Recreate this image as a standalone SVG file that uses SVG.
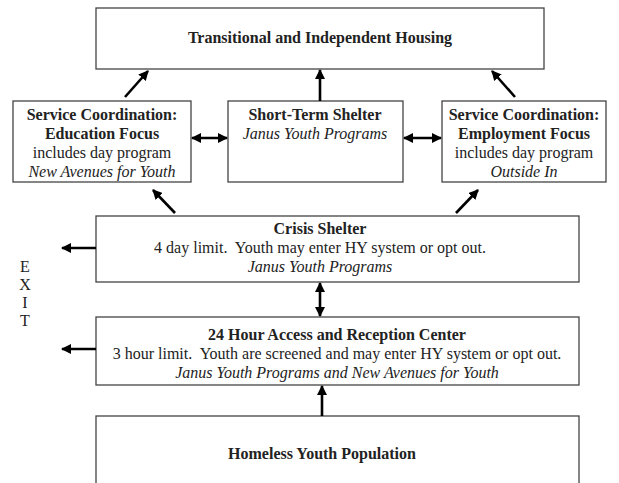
<svg xmlns="http://www.w3.org/2000/svg" width="619" height="483" viewBox="0 0 619 483">
<defs>
<marker id="ah" viewBox="0 0 10 10" refX="9" refY="5" markerWidth="10" markerHeight="10" markerUnits="userSpaceOnUse" orient="auto-start-reverse">
<path d="M0,0 L10,5 L0,10 z" fill="#000"/>
</marker>
<style>
.box{fill:#fff;stroke:#444;stroke-width:1.3}
.t{font-family:"Liberation Serif",serif;font-size:16px;fill:#222;text-anchor:middle;white-space:pre}
.b{font-weight:bold}
.i{font-style:italic}
.c{stroke:#000;stroke-width:2.6;fill:none}
</style>
</defs>
<g id="housing">
<rect class="box" x="96" y="8" width="448" height="61"/>
<text class="t b" x="320" y="43">Transitional and Independent Housing</text>
</g>
<g id="education">
<rect class="box" x="13" y="101" width="178" height="81"/>
<text class="t b" x="102" y="120">Service Coordination:</text>
<text class="t b" x="102" y="139">Education Focus</text>
<text class="t" x="102" y="158">includes day program</text>
<text class="t i" x="102" y="177">New Avenues for Youth</text>
</g>
<g id="shortterm">
<rect class="box" x="228" y="101" width="175" height="81"/>
<text class="t b" x="315" y="120">Short-Term Shelter</text>
<text class="t i" x="315" y="139">Janus Youth Programs</text>
</g>
<g id="employment">
<rect class="box" x="442" y="101" width="164" height="81"/>
<text class="t b" x="524" y="120">Service Coordination:</text>
<text class="t b" x="524" y="139">Employment Focus</text>
<text class="t" x="524" y="158">includes day program</text>
<text class="t i" x="524" y="177">Outside In</text>
</g>
<g id="crisis">
<rect class="box" x="96" y="216" width="483" height="66"/>
<text class="t b" x="320" y="234">Crisis Shelter</text>
<text class="t" x="320" y="253" xml:space="preserve">4 day limit.  Youth may enter HY system or opt out.</text>
<text class="t i" x="320" y="272">Janus Youth Programs</text>
</g>
<g id="reception">
<rect class="box" x="96" y="317" width="483" height="68"/>
<text class="t b" x="337" y="340">24 Hour Access and Reception Center</text>
<text class="t" x="337" y="359" xml:space="preserve">3 hour limit.  Youth are screened and may enter HY system or opt out.</text>
<text class="t i" x="337" y="378">Janus Youth Programs and New Avenues for Youth</text>
</g>
<g id="population">
<rect class="box" x="96" y="416" width="483" height="90"/>
<text class="t b" x="322" y="459">Homeless Youth Population</text>
</g>
<g id="exit">
<text class="t" x="25" y="272">E</text>
<text class="t" x="25" y="290">X</text>
<text class="t" x="25" y="308">I</text>
<text class="t" x="25" y="326">T</text>
</g>
<g id="connectors">
<line class="c" x1="125" y1="97" x2="148" y2="71" marker-end="url(#ah)"/>
<line class="c" x1="320" y1="101" x2="320" y2="70" marker-end="url(#ah)"/>
<line class="c" x1="515" y1="97" x2="492" y2="71" marker-end="url(#ah)"/>
<line class="c" x1="192" y1="138" x2="227" y2="138" marker-start="url(#ah)" marker-end="url(#ah)"/>
<line class="c" x1="404" y1="138" x2="441" y2="138" marker-start="url(#ah)" marker-end="url(#ah)"/>
<line class="c" x1="175" y1="213" x2="153" y2="190" marker-end="url(#ah)"/>
<line class="c" x1="456" y1="213" x2="478" y2="190" marker-end="url(#ah)"/>
<line class="c" x1="96" y1="248" x2="62" y2="248" marker-end="url(#ah)"/>
<line class="c" x1="96" y1="349" x2="62" y2="349" marker-end="url(#ah)"/>
<line class="c" x1="320" y1="283" x2="320" y2="316" marker-start="url(#ah)" marker-end="url(#ah)"/>
<line class="c" x1="322" y1="416" x2="322" y2="386" marker-end="url(#ah)"/>
</g>
</svg>
